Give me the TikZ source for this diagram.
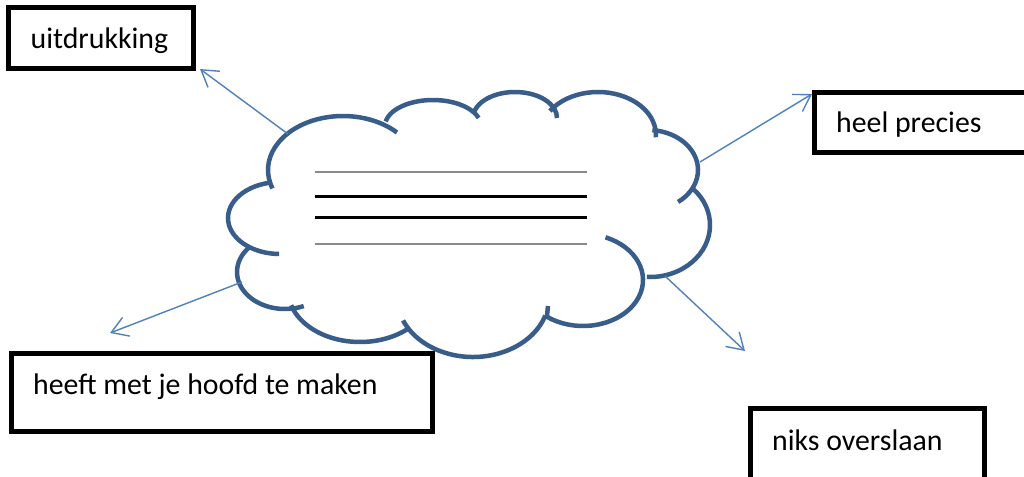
\documentclass[tikz,border=0pt]{standalone}
\usepackage{fontspec}
\setmainfont{Carlito}
\usetikzlibrary{arrows.meta}
\definecolor{cloudblue}{HTML}{385D8A}
\definecolor{arrowblue}{HTML}{4F81BD}
\definecolor{rulegray}{HTML}{8A8A8A}
\newcommand{\cloudlobe}[6]{\draw[lobe] (#1,#2) ++(#5:#3pt and #4pt) arc[start angle=#5, end angle=#6, x radius=#3pt, y radius=#4pt];}
\begin{document}
\begin{tikzpicture}[x=1pt,y=-1pt,
  lobe/.style={draw=cloudblue, line width=4.5pt, line cap=butt},
  boxstyle/.style={draw=black, line width=5pt, inner sep=0pt, outer sep=0pt, anchor=north west},
  txt/.style={font=\fontsize{29.8}{36}\selectfont, inner sep=0pt, anchor=base west},
  conn/.style={draw=arrowblue, line width=1.4pt, -{Straight Barb[length=16pt,width=20pt]}},
  grayrule/.style={draw=rulegray, line width=1.8pt},
  blackrule/.style={draw=black, line width=2.6pt}]
\clip (0,0) rectangle (1024,476);
\fill[white] (0,0) rectangle (1024,476);

% boxes
\node[boxstyle, minimum width=185pt, minimum height=61pt] (b1) at (8.5,7.5) {};
\node[boxstyle, minimum width=226pt, minimum height=60pt] (b2) at (814.5,92.5) {};
\node[boxstyle, minimum width=421pt, minimum height=78pt] (b3) at (11.5,353.5) {};
\node[boxstyle, minimum width=234pt, minimum height=92pt] (b4) at (750.5,408.5) {};

% texts
\node[txt] (t1) at (30.5,48.5) {uitdrukking};
\node[txt] (t2) at (836,132.7) {heel precies};
\node[txt] (t3) at (33,394.3) {heeft met je hoofd te maken};
\node[txt] (t4) at (772,450) {niks overslaan};

% cloud: centre x, centre y, x radius, y radius, start angle, end angle
\cloudlobe{343}{170}{75}{54}{200}{44}
\cloudlobe{433}{126}{48}{26}{170}{18}
\cloudlobe{515}{118}{42}{26}{170}{0}
\cloudlobe{598}{135}{58}{43}{146}{-3}
\cloudlobe{648}{170}{50}{40}{85}{-53}
\cloudlobe{650}{225}{60}{52}{44}{-93}
\draw[lobe] (583,280) ++(68:60pt and 46pt) arc[start angle=68, end angle=-127, x radius=60pt, y radius=46pt] -- (548,306);
\cloudlobe{473}{297}{76}{60}{-18}{-157}
\cloudlobe{360}{290}{72}{52}{-46}{-163}
\cloudlobe{285}{272}{48}{37}{137}{293}
\cloudlobe{280}{218}{52}{36}{101}{269}

% lines inside cloud
\draw[grayrule] (315,171.7) -- (587,171.7);
\draw[blackrule] (315,196.7) -- (587,196.7);
\draw[blackrule] (315,217.3) -- (587,217.3);
\draw[grayrule] (315,244.3) -- (587,244.3);

% connector ends
\coordinate (a1s) at (288,134);
\coordinate (a1e) at (200,69);
\coordinate (a2s) at (700,162);
\coordinate (a2e) at (812,94);
\coordinate (a3s) at (242,282);
\coordinate (a3e) at (110,333);
\coordinate (a4s) at (665,276);
\coordinate (a4e) at (745,351);

\draw[conn] (a1s) -- (a1e);
\draw[conn] (a2s) -- (a2e);
\draw[conn] (a3s) -- (a3e);
\draw[conn] (a4s) -- (a4e);
\end{tikzpicture}
\end{document}
